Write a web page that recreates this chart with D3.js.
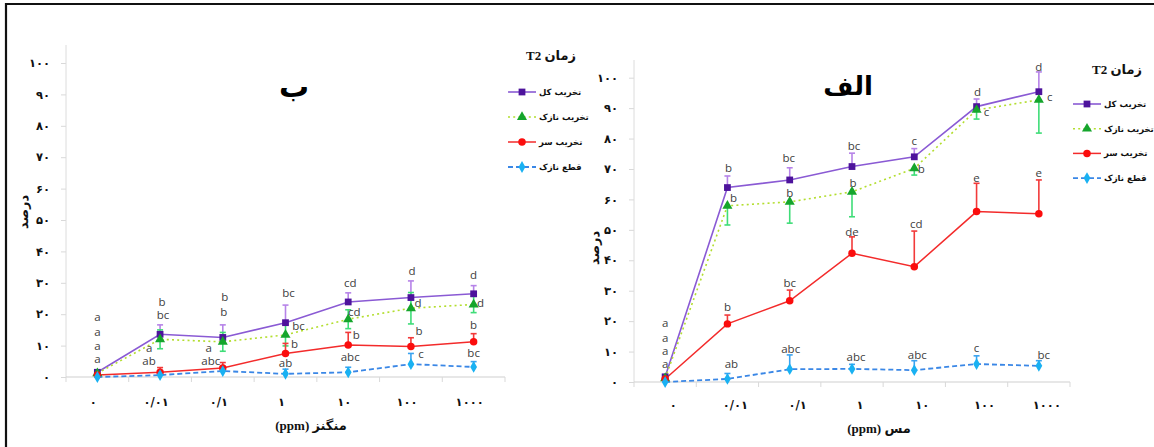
<!DOCTYPE html>
<html><head><meta charset="utf-8">
<script src="https://cdn.jsdelivr.net/npm/d3@7"></script>
<style>
html,body{margin:0;padding:0;background:#fff;}
svg{display:block;}
</style></head>
<body>
<svg id="chart" width="1154" height="447"></svg>
<script>
// ---------- data ----------
const categories = ["۰","۰/۰۱","۰/۱","۱","۱۰","۱۰۰","۱۰۰۰"];
const yTickValues = [0,10,20,30,40,50,60,70,80,90,100];
const yTickLabels = ["۰","۱۰","۲۰","۳۰","۴۰","۵۰","۶۰","۷۰","۸۰","۹۰","۱۰۰"];
const seriesNames = ["تخریب کل","تخریب نازک","تخریب سر","قطع نازک"];
const legendTitle = "زمان T2";
const yAxisTitle = "درصد";

// panel ب : منگنز
const mnTotal    = [1.5, 13.6, 12.6, 17.3, 23.9, 25.3, 26.5];
const mnTotalErr = [0, 3.0, 4.0, 5.6, 2.9, 5.3, 2.6];
const mnThin     = [1.2, 12.0, 11.2, 13.4, 18.4, 21.9, 23.1];
const mnThinErr  = [0, 3.0, 3.0, 3.5, 3.0, 5.0, 2.6];
const mnHead     = [0.6, 1.5, 2.9, 7.5, 10.2, 9.7, 11.2];
const mnHeadErr  = [0, 1.5, 1.7, 3.2, 4.0, 2.8, 2.6];
const mnCut      = [0, 0.6, 1.9, 1.0, 1.5, 4.1, 3.2];
const mnCutErr   = [0, 0.8, 0.8, 1.5, 1.6, 3.4, 1.7];
// significance letters: [category index, letter, value (data units), dx]
const mnLetters = [
  [0,"a",19.0,0],[0,"a",14.4,0],[0,"a",10.0,0],[0,"a",5.6,0],
  [1,"b",23.9,2],[1,"bc",19.7,3],[1,"a",9.2,-11],[1,"ab",5.1,-11],
  [2,"b",25.4,2],[2,"b",20.6,1],[2,"a",9.3,-14],[2,"abc",5.1,-12],
  [3,"bc",26.7,3],[3,"bc",16.3,13],[3,"b",10.4,9],[3,"ab",4.6,0],
  [4,"cd",30.0,2],[4,"cd",20.8,6],[4,"b",13.4,8],[4,"abc",6.3,2],
  [5,"d",33.9,1],[5,"d",23.7,7],[5,"b",14.6,8],[5,"c",7.3,10],
  [6,"d",32.5,0],[6,"d",23.7,7],[6,"b",16.6,0],[6,"bc",7.5,0]
];

// panel الف : مس
const cuTotal    = [1.7, 63.9, 66.4, 70.8, 74.0, 90.5, 95.4];
const cuTotalErr = [0, 3.8, 4.0, 4.4, 2.7, 2.5, 6.5];
const cuThin     = [1.2, 57.9, 59.2, 62.5, 70.2, 89.4, 92.7];
const cuThinErr  = [0, 6.3, 7.0, 8.2, 2.2, 3.0, 10.9];
const cuHead     = [1.0, 19.1, 26.7, 42.3, 37.9, 56.0, 55.3];
const cuHeadErr  = [0, 2.9, 3.5, 5.4, 11.7, 9.3, 11.1];
const cuCut      = [0, 1.0, 4.2, 4.3, 3.9, 5.9, 5.3];
const cuCutErr   = [0, 1.8, 4.7, 1.5, 3.1, 2.7, 1.7];
const cuLetters = [
  [0,"a",19.4,0],[0,"a",14.5,0],[0,"a",10.2,0],[0,"a",5.9,0],
  [1,"b",70.3,1],[1,"b",60.5,6],[1,"b",24.6,0],[1,"ab",5.9,4],
  [2,"bc",73.5,-1],[2,"b",62.2,0],[2,"bc",32.4,0],[2,"abc",10.8,1],
  [3,"bc",77.6,2],[3,"b",65.3,1],[3,"de",49.4,0],[3,"abc",8.3,4],
  [4,"c",79.3,0],[4,"b",69.9,7],[4,"cd",51.8,2],[4,"abc",8.9,3],
  [5,"d",95.2,1],[5,"c",88.6,10],[5,"e",66.9,0],[5,"c",11.1,0],
  [6,"d",103.5,0],[6,"c",93.6,11],[6,"e",68.6,0],[6,"bc",8.9,5]
];

// ---------- styles ----------
const styles = [
  {line:"#8a5ad4", marker:"#4d139c", err:"#b683e8", shape:d3.symbolSquare, size:46, dash:null, w:1.6},
  {line:"#b3de2f", marker:"#15a52c", err:"#3fdd78", shape:d3.symbolTriangle, size:44, dash:"2,3.2", w:1.6},
  {line:"#f32b2b", marker:"#fb0d0d", err:"#f23a3a", shape:d3.symbolCircle, size:44, dash:null, w:1.5},
  {line:"#3a87e6", marker:"#19b1f2", err:"#3aa3f0", shape:d3.symbolDiamond, size:40, dash:"5,3", w:1.8}
];

const panels = [
  {
    series:[[mnTotal,mnTotalErr,"up"],[mnThin,mnThinErr,"both"],[mnHead,mnHeadErr,"up"],[mnCut,mnCutErr,"up"]],
    letters:mnLetters,
    x0:66, x1:505, yZero:377, yTop100:63, axisTop:45,
    title:"ب", titleX:294, titleY:97, titleSize:30,
    xTitle:"منگنز (ppm)", xTitleX:311, xTitleY:430,
    yLabelX:23, yLabelY:212, tickLabelX:50, xTickY:402, xTickDx:-4,
    legX:508, legTitleX:551, legTitleY:60, legY0:92, legDy:25
  },
  {
    series:[[cuTotal,cuTotalErr,"up"],[cuThin,cuThinErr,"down"],[cuHead,cuHeadErr,"up"],[cuCut,cuCutErr,"up"]],
    letters:cuLetters,
    x0:634, x1:1070, yZero:382, yTop100:77.7, axisTop:60,
    title:"الف", titleX:848, titleY:95, titleSize:26,
    xTitle:"مس (ppm)", xTitleX:879, xTitleY:433,
    yLabelX:594, yLabelY:248, tickLabelX:618, xTickY:405, xTickDx:8,
    legX:1073, legTitleX:1117, legTitleY:74, legY0:104, legDy:24.7
  }
];

const svg = d3.select("#chart");
const persian = "'DejaVu Sans', sans-serif";

// frame
svg.append("line").attr("x1",5).attr("x2",1154).attr("y1",4).attr("y2",4)
  .attr("stroke","#111").attr("stroke-width",2.2);
svg.append("line").attr("x1",6).attr("x2",6).attr("y1",3).attr("y2",447)
  .attr("stroke","#111").attr("stroke-width",2.2);

panels.forEach(p => {
  const g = svg.append("g");
  const x = d3.scaleBand().domain(categories).range([p.x0, p.x1]);
  const bw = x.bandwidth();
  const cx = i => x(categories[i]) + bw/2;
  const y = d3.scaleLinear().domain([0,100]).range([p.yZero, p.yTop100]);

  // y axis
  const yAxis = d3.axisLeft(y).tickValues(yTickValues).tickSize(5).tickSizeOuter(0)
    .tickFormat((d,i) => yTickLabels[i]);
  const ya = g.append("g").attr("transform",`translate(${p.x0},0)`).call(yAxis);
  ya.select(".domain").remove();
  ya.selectAll(".tick line").attr("stroke","#d9d9d9");
  ya.selectAll(".tick text").attr("x", p.tickLabelX - p.x0).attr("font-family",persian)
    .attr("font-weight","bold").attr("font-size",11.5).attr("fill","#111");
  g.append("line").attr("x1",p.x0).attr("x2",p.x0).attr("y1",p.axisTop).attr("y2",p.yZero)
    .attr("stroke","#dcdcdc").attr("stroke-width",1);

  // x axis
  const xAxis = d3.axisBottom(x).tickSize(0).tickSizeOuter(0);
  const xa = g.append("g").attr("transform",`translate(0,${p.yZero})`).call(xAxis);
  xa.select(".domain").remove();
  xa.selectAll(".tick text").attr("y", p.xTickY - p.yZero).attr("dy","0.35em").attr("dx",p.xTickDx)
    .attr("font-family",persian).attr("font-weight","bold").attr("font-size",11.5).attr("fill","#111");
  g.append("line").attr("x1",p.x0).attr("x2",p.x1).attr("y1",p.yZero).attr("y2",p.yZero)
    .attr("stroke","#cfcfcf").attr("stroke-width",1);
  const bounds = categories.map(c => x(c)).concat([p.x1]);
  g.selectAll(".bt").data(bounds).enter().append("line")
    .attr("x1",d=>d).attr("x2",d=>d).attr("y1",p.yZero).attr("y2",p.yZero+5)
    .attr("stroke","#d9d9d9");

  // series: error bars
  p.series.forEach((s, si) => {
    const [vals, errs, dir] = s;
    const st = styles[si];
    vals.forEach((v,i) => {
      if (!errs[i]) return;
      const top = (dir === "down") ? v : v + errs[i];
      const bot = (dir === "up") ? v : v - errs[i];
      g.append("line").attr("x1",cx(i)).attr("x2",cx(i)).attr("y1",y(top)).attr("y2",y(bot))
        .attr("stroke",st.err).attr("stroke-width",1.6);
      if (dir !== "down")
        g.append("line").attr("x1",cx(i)-3).attr("x2",cx(i)+3).attr("y1",y(top)).attr("y2",y(top))
          .attr("stroke",st.err).attr("stroke-width",1.6);
      if (dir !== "up")
        g.append("line").attr("x1",cx(i)-3).attr("x2",cx(i)+3).attr("y1",y(bot)).attr("y2",y(bot))
          .attr("stroke",st.err).attr("stroke-width",1.6);
    });
  });
  // lines
  p.series.forEach((s, si) => {
    const st = styles[si];
    const line = d3.line().x((d,i)=>cx(i)).y(d=>y(d));
    g.append("path").datum(s[0]).attr("d",line).attr("fill","none")
      .attr("stroke",st.line).attr("stroke-width",st.w)
      .attr("stroke-dasharray",st.dash);
  });
  // markers
  p.series.forEach((s, si) => {
    const st = styles[si];
    g.selectAll(".m"+si).data(s[0]).enter().append("path")
      .attr("d", d3.symbol().type(st.shape).size(st.size))
      .attr("transform",(d,i)=>`translate(${cx(i)},${y(d)})`)
      .attr("fill",st.marker);
  });

  // letters
  g.selectAll(".lt").data(p.letters).enter().append("text")
    .attr("x", d => cx(d[0]) + d[3]).attr("y", d => y(d[2]))
    .attr("dy","0.35em").attr("text-anchor","middle")
    .attr("font-family","'Open Sans', sans-serif").attr("font-size",11.5).attr("fill","#404040")
    .text(d => d[1]);

  // title
  g.append("text").attr("x",p.titleX).attr("y",p.titleY).attr("text-anchor","middle")
    .attr("font-family",persian).attr("font-weight","bold").attr("font-size",p.titleSize)
    .attr("fill","#000").text(p.title);

  // axis titles
  g.append("text").attr("x",p.xTitleX).attr("y",p.xTitleY).attr("text-anchor","middle")
    .attr("direction","rtl").style("direction","rtl")
    .attr("font-family","'Liberation Serif', 'DejaVu Sans', serif").attr("font-weight","bold")
    .attr("font-size",13).attr("fill","#111").text(p.xTitle);
  g.append("text").attr("transform",`translate(${p.yLabelX},${p.yLabelY}) rotate(-90)`)
    .attr("text-anchor","middle").attr("dy","0.35em")
    .attr("font-family",persian).attr("font-weight","bold").attr("font-size",13)
    .attr("fill","#111").text(yAxisTitle);

  // legend
  g.append("text").attr("x",p.legTitleX).attr("y",p.legTitleY).attr("text-anchor","middle")
    .attr("direction","rtl").style("direction","rtl")
    .attr("font-family","'Liberation Serif', 'DejaVu Sans', serif").attr("font-weight","bold")
    .attr("font-size",13).attr("fill","#111").text(legendTitle);
  seriesNames.forEach((name, si) => {
    const st = styles[si];
    const ly = p.legY0 + si*p.legDy;
    g.append("line").attr("x1",p.legX).attr("x2",p.legX+28).attr("y1",ly).attr("y2",ly)
      .attr("stroke",st.line).attr("stroke-width",st.w).attr("stroke-dasharray",st.dash);
    g.append("path").attr("d", d3.symbol().type(st.shape).size(st.size))
      .attr("transform",`translate(${p.legX+14},${ly})`).attr("fill",st.marker);
    g.append("text").attr("x",p.legX+31).attr("y",ly).attr("dy","0.35em")
      .attr("font-family",persian).attr("font-weight","bold").attr("font-size",8.5)
      .attr("fill","#111").text(name);
  });
});
</script>
</body></html>
